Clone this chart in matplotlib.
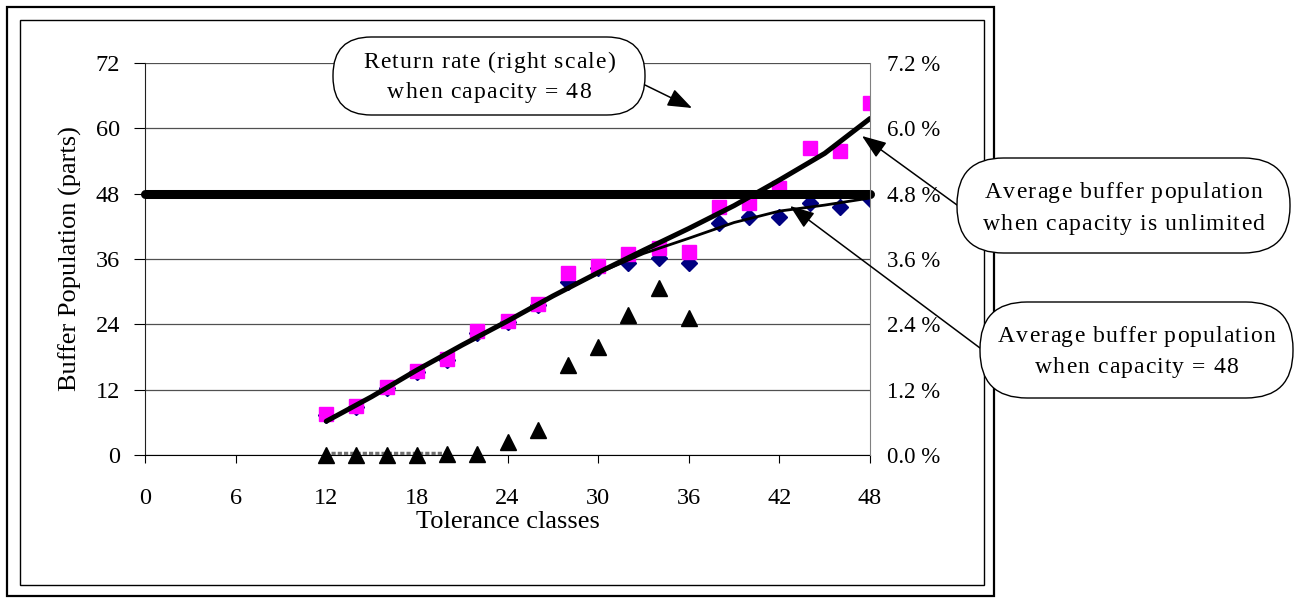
"""Buffer population vs tolerance classes, with return rate on a right scale."""

import numpy as np
import matplotlib
matplotlib.use("Agg")
import matplotlib.pyplot as plt
from matplotlib.font_manager import FontProperties, findfont, get_font
from matplotlib.patches import FancyBboxPatch, FancyArrowPatch, Rectangle
from matplotlib.transforms import IdentityTransform
from matplotlib.ticker import FuncFormatter

SERIF = "Liberation Serif"

# tolerance classes
classes = [12, 14, 16, 18, 20, 22, 24, 26, 28, 30, 32, 34, 36, 38, 40, 42, 44, 46, 48]
# average buffer population, unlimited capacity (magenta squares)
pop_unlimited = [7.5, 9.0, 12.5, 15.5, 17.6, 22.7, 24.6, 27.7, 33.5, 34.7,
                 37.0, 38.0, 37.3, 45.6, 46.2, 49.0, 56.3, 55.9, 64.7]
# average buffer population, capacity = 48 (navy diamonds)
pop_cap48 = [7.3, 8.8, 12.3, 15.2, 17.4, 22.5, 24.4, 27.5, 31.8, 34.4,
             35.3, 36.2, 35.3, 42.6, 43.8, 43.8, 46.2, 45.6, 47.0]
# return rate (%) with capacity = 48 (black triangles), none shown beyond 36
return_rate = [0.0, 0.0, 0.0, 0.0, 0.02, 0.02, 0.24, 0.46, 1.65, 1.99,
               2.57, 3.06, 2.51, np.nan, np.nan, np.nan, np.nan, np.nan, np.nan]

# trend lines
trend_x = [12, 15, 18, 21, 24, 27, 30, 33, 36, 39, 42, 45, 48]
trend_unlimited = [6.2, 10.7, 15.6, 20.2, 24.6, 29.2, 33.5, 37.6, 41.6, 45.8, 50.5, 55.4, 61.8]
trend_cap48 = [6.2, 10.7, 15.6, 20.2, 24.6, 29.2, 33.4, 37.0, 39.8, 42.7, 44.8, 45.9, 47.2]
rate_trend_x = [12.3, 20]
rate_trend = [0.03, 0.03]

capacity = 48
x_ticks = [0, 6, 12, 18, 24, 30, 36, 42, 48]
y_ticks = [0, 12, 24, 36, 48, 60, 72]
rate_ticks = [0.0, 1.2, 2.4, 3.6, 4.8, 6.0, 7.2]

W, H = 1298, 599


def px(x, y):
    """Pixel position (from top-left) to display coordinates."""
    return x, H - y


def spaced_text(fig, cx, baseline, text, size, spacing):
    """Centre text at (cx, baseline) in pixels, with extra letter spacing."""
    prop = FontProperties(family=SERIF, size=size)
    font = get_font(findfont(prop))
    font.set_size(size, fig.dpi)
    adv = [font.load_char(ord(c)).linearHoriAdvance / 65536 for c in text]
    total = sum(adv) + spacing * (len(text) - 1)
    x = cx - total / 2
    for c, a in zip(text, adv):
        if c != " ":
            fig.text(x, H - baseline, c, transform=IdentityTransform(),
                     fontproperties=prop, ha="left", va="baseline", zorder=11)
        x += a + spacing


def callout(fig, box, lines, baselines, tail, tip):
    x0, y0, x1, y1 = box
    h = y1 - y0
    patch = FancyBboxPatch(px(x0, y1), x1 - x0, h,
                           boxstyle=f"round,pad=0,rounding_size={h * 0.49}",
                           transform=IdentityTransform(), facecolor="white",
                           edgecolor="black", linewidth=1.0, zorder=10)
    fig.add_artist(patch)
    cx = (x0 + x1) / 2
    for line, b in zip(lines, baselines):
        spaced_text(fig, cx, b, line, 17, 1.1)
    arrow = FancyArrowPatch(px(*tail), px(*tip), transform=IdentityTransform(),
                            arrowstyle="-|>,head_length=0.75,head_width=0.28",
                            mutation_scale=20, color="black", linewidth=1.1,
                            shrinkA=0, shrinkB=0, zorder=9)
    fig.add_artist(arrow)


def main() -> None:
    plt.rcParams["font.family"] = SERIF
    fig = plt.figure(figsize=(W / 100, H / 100), dpi=100)

    # chart frame
    fig.add_artist(Rectangle(px(7, 596), 987, 589, transform=IdentityTransform(),
                             fill=False, edgecolor="black", linewidth=1.6, zorder=1))
    fig.add_artist(Rectangle(px(20, 585), 964, 565, transform=IdentityTransform(),
                             fill=False, edgecolor="black", linewidth=1.0, zorder=1))

    ax = fig.add_axes([145 / W, (H - 455) / H, 725 / W, 392 / H])
    ax.set_xlim(0, 48)
    ax.set_ylim(0, 72)
    ax.set_xticks(x_ticks)
    ax.set_yticks(y_ticks)
    ax.grid(axis="y", color="#505050", linewidth=0.9)
    ax.set_axisbelow(True)
    for side in ("top", "right"):
        ax.spines[side].set_visible(False)
    ax.spines["left"].set_color("#202020")
    ax.spines["bottom"].set_color("black")
    ax.tick_params(axis="y", direction="out", length=8, width=0.8, pad=10, labelsize=17.5)
    ax.tick_params(axis="x", direction="out", length=6, width=0.8, pad=18, labelsize=17.5)
    ax.set_ylabel("Buffer Population (parts)", fontsize=19)
    ax.yaxis.set_label_coords(-0.087, 0.5)
    ax.set_xlabel("Tolerance classes", fontsize=19, va="top")
    ax.xaxis.set_label_coords(0.5, -0.142)

    ax.plot(classes, pop_cap48, linestyle="none", marker="D", markersize=8.5,
            color="#000080", zorder=3)
    ax.plot(classes, pop_unlimited, linestyle="none", marker="s", markersize=10,
            color="#FF00FF", zorder=4)
    ax.plot(trend_x, trend_cap48, color="black", linewidth=2.0, zorder=5)
    ax.plot(trend_x, trend_unlimited, color="black", linewidth=3.6,
            solid_capstyle="round", zorder=6)
    ax.plot([0, 48], [capacity, capacity], color="black", linewidth=6.5,
            solid_capstyle="round", clip_on=False, zorder=7)

    ax2 = ax.twinx()
    ax2.set_ylim(0, 7.2)
    ax2.set_yticks(rate_ticks)
    ax2.yaxis.set_major_formatter(FuncFormatter(lambda v, _: f"{v:.1f} %"))
    ax2.tick_params(axis="y", length=0, pad=12, labelsize=16.5)
    for side in ("top", "left", "bottom"):
        ax2.spines[side].set_visible(False)
    ax2.spines["right"].set_color("#808080")
    ax2.plot(rate_trend_x, rate_trend, color="#707070", linewidth=2.5,
             linestyle=(0, (1.2, 0.6)), zorder=2)
    ax2.plot(classes, return_rate, linestyle="none", marker="^", markersize=11,
             color="black", clip_on=False, zorder=4)

    callout(fig, (333, 37, 645, 115),
            ["Return rate (right scale)", "when capacity = 48"], [68, 98],
            (645, 85), (692, 108))
    callout(fig, (957, 158, 1290, 253),
            ["Average buffer population", "when capacity is unlimited"], [198, 230],
            (957, 205), (862, 136))
    callout(fig, (980, 302, 1293, 398),
            ["Average buffer population", "when capacity = 48"], [342, 373],
            (980, 348), (790, 206))

    fig.savefig("out.png", dpi=100, facecolor="white")
    plt.close(fig)


if __name__ == "__main__":
    main()
